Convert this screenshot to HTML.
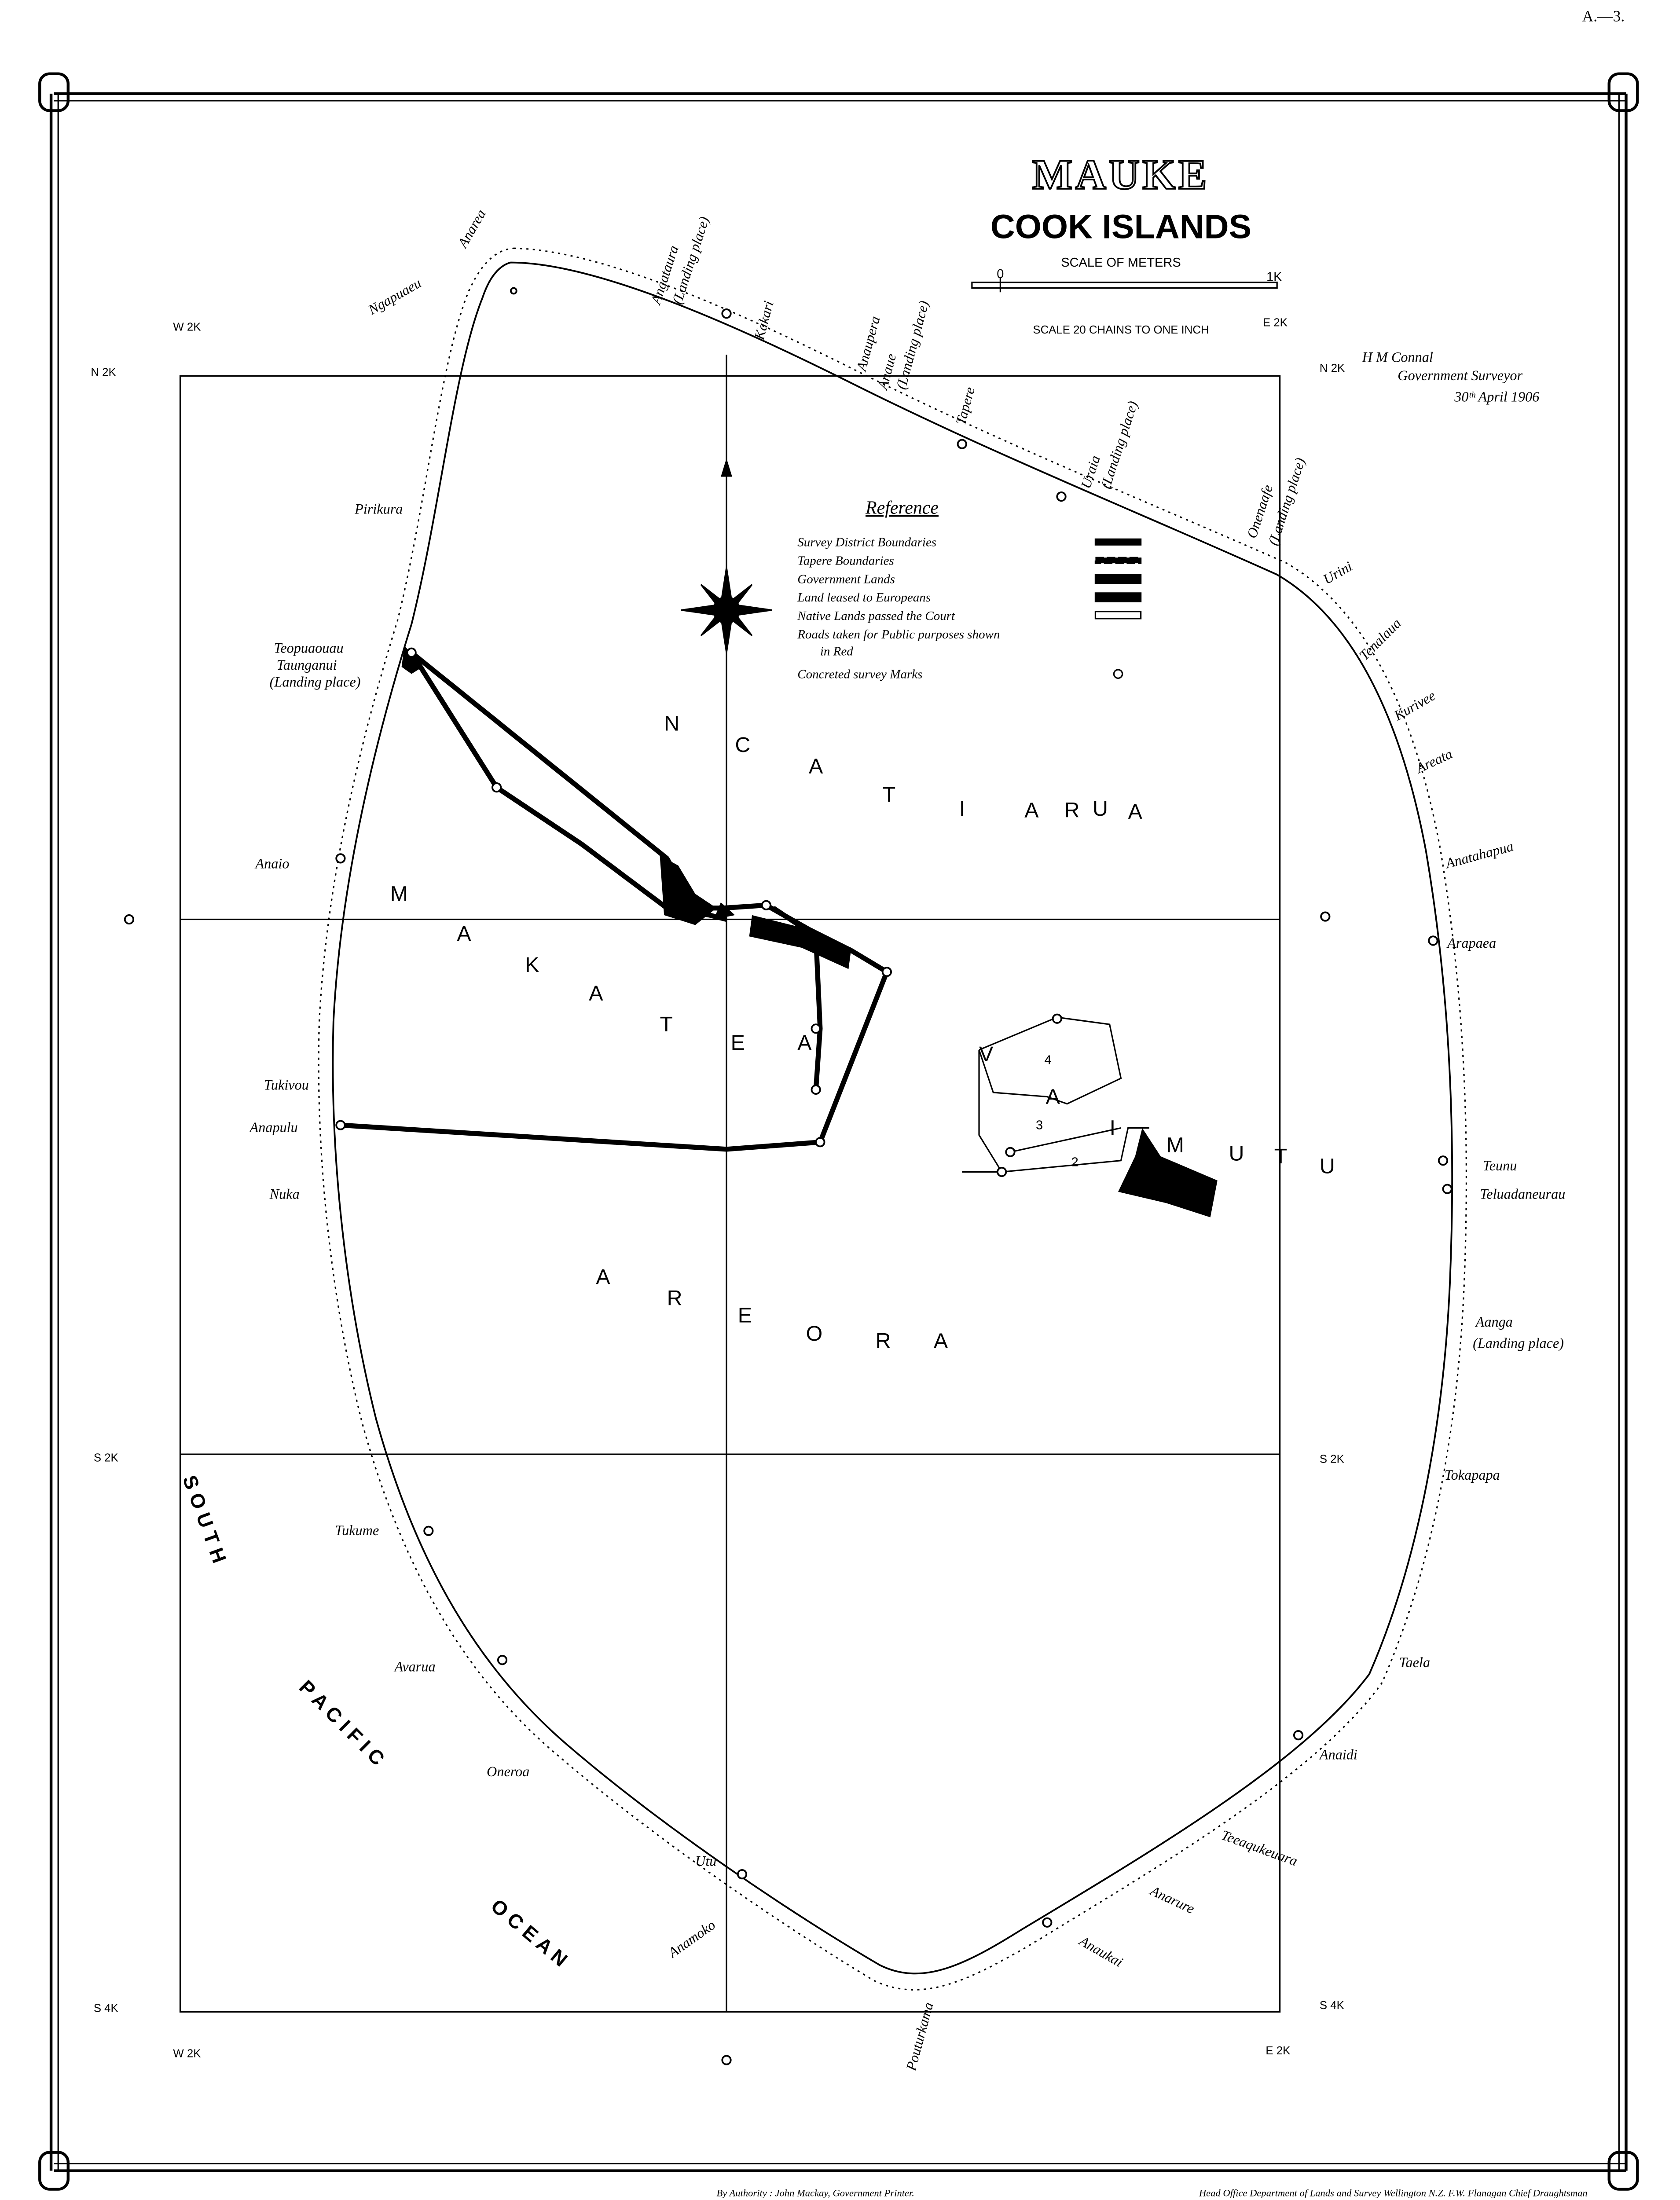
<!DOCTYPE html>
<html><head><meta charset="utf-8"><style>
html,body{margin:0;padding:0;background:#fff;width:3818px;height:5039px;overflow:hidden}
svg{display:block;position:absolute;left:0;top:0}
.s{font-family:"Liberation Serif",serif;font-style:italic;fill:#000}
.g{font-family:"Liberation Sans",sans-serif;fill:#000}
</style></head><body>
<svg width="3818" height="5039" viewBox="0 0 1184 1562.7" preserveAspectRatio="none" xmlns="http://www.w3.org/2000/svg">
<rect width="1184" height="1563" fill="#fff"/>
<g stroke="#000" fill="none">
<line x1="38" y1="66" x2="1146" y2="66" stroke-width="2"/>
<line x1="38" y1="71" x2="1146" y2="71" stroke-width="1"/>
<line x1="38" y1="1530" x2="1146" y2="1530" stroke-width="2"/>
<line x1="38" y1="1525" x2="1146" y2="1525" stroke-width="1"/>
<line x1="36" y1="66" x2="36" y2="1530" stroke-width="2"/>
<line x1="41" y1="66" x2="41" y2="1530" stroke-width="1"/>
<line x1="1146" y1="66" x2="1146" y2="1530" stroke-width="2"/>
<line x1="1141" y1="66" x2="1141" y2="1530" stroke-width="1"/>
<g stroke-width="2">
<rect x="28" y="52" width="20" height="26" rx="7"/><rect x="1134" y="52" width="20" height="26" rx="7"/>
<rect x="28" y="1517" width="20" height="26" rx="7"/><rect x="1134" y="1517" width="20" height="26" rx="7"/>
</g>
<g stroke-width="1">
<rect x="127" y="265" width="775" height="1153"/>
<line x1="512" y1="250" x2="512" y2="1418"/>
<line x1="127" y1="648" x2="902" y2="648"/>
<line x1="127" y1="1025" x2="902" y2="1025"/>
</g>
<path d="M360,185 C420,185 520,230 600,270 C700,320 800,360 900,405 C960,440 990,520 1005,600 C1022,700 1026,800 1022,900 C1018,1000 1000,1100 965,1180 C920,1240 820,1300 720,1360 C680,1385 650,1400 620,1385 C560,1350 470,1290 400,1230 C330,1170 290,1090 265,1000 C245,920 232,820 235,720 C240,620 265,520 290,440 C310,360 320,260 340,210 C345,195 352,187 360,185 Z" stroke-width="1.2"/>
<path d="M362,175 C425,176 525,222 605,262 C705,312 805,352 907,397 C970,434 1000,518 1015,598 C1032,700 1036,800 1032,902 C1028,1004 1010,1104 974,1186 C928,1250 826,1310 724,1372 C682,1396 650,1412 616,1396 C556,1360 464,1298 394,1238 C322,1178 280,1094 255,1002 C235,922 222,822 225,720 C230,620 255,518 280,438 C300,358 310,256 330,206 C338,188 348,176 362,175 Z" stroke-width="1" stroke-dasharray="1.5,3"/>
<g stroke-width="3.5">
<polyline points="290,460 470,605 490,640 510,640 540,638 570,655 600,670 625,685 578,805 512,810 240,793"/>
<polyline points="290,460 350,555 410,595 470,640 500,645 512,648"/>
<polyline points="545,640 575,660 578,725 575,768"/>
</g>
<g stroke-width="1">
<polyline points="690,740 745,717 782,722 790,760 752,778 738,773 700,770 690,740"/>
<polyline points="690,740 690,800 706,826 790,818 795,795 810,795"/>
<polyline points="712,812 790,795"/>
<polyline points="678,826 706,826"/>
</g>
</g>
<g fill="#000">
<polygon points="465,603 478,610 490,630 505,640 490,652 468,645"/>
<polygon points="530,645 570,655 600,668 598,683 565,668 528,660"/>
<polygon points="285,455 298,470 290,475 283,470"/>
<polygon points="805,795 818,815 858,832 853,858 822,848 788,840 800,815"/>
<polygon points="508,636 518,645 503,648"/>
</g>
<g fill="#fff" stroke="#000" stroke-width="1.2">
<circle cx="745" cy="718" r="3"/><circle cx="575" cy="725" r="3"/><circle cx="575" cy="768" r="3"/><circle cx="625" cy="685" r="3"/>
<circle cx="578" cy="805" r="3"/><circle cx="712" cy="812" r="3"/><circle cx="706" cy="826" r="3"/><circle cx="540" cy="638" r="3"/>
<circle cx="678" cy="313" r="3"/><circle cx="748" cy="350" r="3"/><circle cx="1010" cy="663" r="3"/><circle cx="1017" cy="818" r="3"/>
<circle cx="1020" cy="838" r="3"/><circle cx="915" cy="1223" r="3"/><circle cx="738" cy="1355" r="3"/><circle cx="523" cy="1321" r="3"/>
<circle cx="354" cy="1170" r="3"/><circle cx="302" cy="1079" r="3"/><circle cx="240" cy="605" r="3"/><circle cx="240" cy="793" r="3"/>
<circle cx="290" cy="460" r="3"/><circle cx="350" cy="555" r="3"/><circle cx="362" cy="205" r="2"/>
<circle cx="91" cy="648" r="3"/><circle cx="934" cy="646" r="3"/><circle cx="512" cy="1452" r="3"/><circle cx="512" cy="221" r="3"/>
</g>
<g transform="translate(512,430)" fill="#000" stroke="#000">
<polygon points="0,-30 4,-4 0,0 -4,-4"/><polygon points="0,30 4,4 0,0 -4,4"/>
<polygon points="-32,0 -4,-4 0,0 -4,4"/><polygon points="32,0 4,-4 0,0 4,4"/>
<circle r="9" fill="none" stroke-width="1.5"/>
<polygon points="-18,-18 0,-4 -4,0"/><polygon points="18,18 0,4 4,0"/><polygon points="18,-18 4,0 0,-4"/><polygon points="-18,18 -4,0 0,4"/>
</g>
<polygon points="512,323 508,336 516,336" fill="#000"/>
<text x="790" y="133" font-family="Liberation Serif,serif" font-weight="bold" font-size="30" fill="#fff" stroke="#000" stroke-width="1.2" text-anchor="middle" letter-spacing="2">MAUKE</text>
<text x="790" y="168" class="g" font-weight="bold" font-size="24" text-anchor="middle">COOK  ISLANDS</text>
<text x="790" y="188" class="g" font-size="9" text-anchor="middle">SCALE  OF  METERS</text>
<g stroke="#000" fill="none" stroke-width="1"><rect x="685" y="199" width="215" height="4"/><line x1="705" y1="196" x2="705" y2="206"/></g>
<text x="705" y="196" class="g" font-size="9" text-anchor="middle">0</text>
<text x="898" y="198" class="g" font-size="9" text-anchor="middle">1K</text>
<text x="790" y="235" class="g" font-size="8" text-anchor="middle">SCALE 20 CHAINS TO ONE INCH</text>
<text x="1145" y="15" font-family="Liberation Serif,serif" font-size="11" text-anchor="end">A.—3.</text>
<text x="960" y="255" class="s" font-size="10">H M Connal</text>
<text x="985" y="268" class="s" font-size="10">Government Surveyor</text>
<text x="1025" y="283" class="s" font-size="10">30ᵗʰ April 1906</text>
<g class="g" font-size="8">
<text x="122" y="233">W 2K</text><text x="890" y="230">E 2K</text>
<text x="64" y="265">N 2K</text><text x="930" y="262">N 2K</text>
<text x="66" y="1030">S 2K</text><text x="930" y="1031">S 2K</text>
<text x="66" y="1418">S 4K</text><text x="930" y="1416">S 4K</text>
<text x="122" y="1450">W 2K</text><text x="892" y="1448">E 2K</text>
</g>
<text x="610" y="362" class="s" font-size="13" text-decoration="underline">Reference</text>
<g class="s" font-size="9">
<text x="562" y="385">Survey District Boundaries</text>
<text x="562" y="398">Tapere Boundaries</text>
<text x="562" y="411">Government Lands</text>
<text x="562" y="424">Land leased to Europeans</text>
<text x="562" y="437">Native Lands passed the Court</text>
<text x="562" y="450">Roads taken for Public purposes shown</text>
<text x="578" y="462">in Red</text>
<text x="562" y="478">Concreted survey Marks</text>
</g>
<g stroke="#000"><rect x="772" y="380" width="32" height="4" fill="#000"/><rect x="772" y="393" width="32" height="4" fill="#000" stroke-dasharray="6,2"/><rect x="772" y="405" width="32" height="6" fill="#000"/><rect x="772" y="418" width="32" height="6" fill="#000"/><rect x="772" y="431" width="32" height="5" fill="#fff"/><circle cx="788" cy="475" r="3" fill="#fff"/></g>
<g class="g" font-size="15">
<text x="468" y="515">N</text><text x="518" y="530">C</text><text x="570" y="545">A</text><text x="622" y="565">T</text><text x="676" y="575">I</text><text x="722" y="576">A</text><text x="750" y="576">R</text><text x="770" y="575">U</text><text x="795" y="577">A</text>
<text x="275" y="635">M</text><text x="322" y="663">A</text><text x="370" y="685">K</text><text x="415" y="705">A</text><text x="465" y="727">T</text><text x="515" y="740">E</text><text x="562" y="740">A</text>
<text x="690" y="748">V</text><text x="737" y="778">A</text><text x="782" y="800">I</text><text x="822" y="812">M</text><text x="866" y="818">U</text><text x="898" y="820">T</text><text x="930" y="827">U</text>
<text x="420" y="905">A</text><text x="470" y="920">R</text><text x="520" y="932">E</text><text x="568" y="945">O</text><text x="617" y="950">R</text><text x="658" y="950">A</text>
</g>
<g class="g" font-size="9"><text x="736" y="750">4</text><text x="730" y="796">3</text><text x="755" y="822">2</text></g>
<g class="g" font-size="14" font-weight="bold">
<text x="130" y="1050" transform="rotate(70 135 1045)">S O U T H</text>
<text x="210" y="1190" transform="rotate(45 210 1190)">P A C I F I C</text>
<text x="345" y="1345" transform="rotate(40 345 1345)">O C E A N</text>
</g>
<g class="s" font-size="10">
<text x="332" y="158" transform="rotate(-60 345 170)">Anarea</text>
<text x="465" y="215" transform="rotate(-72 465 215)">Angataura</text>
<text x="480" y="215" transform="rotate(-72 480 215)">(Landing place)</text>
<text x="538" y="240" transform="rotate(-75 538 240)">Kakari</text>
<text x="610" y="262" transform="rotate(-75 610 262)">Anaupera</text>
<text x="625" y="275" transform="rotate(-75 625 275)">Anaue</text>
<text x="638" y="275" transform="rotate(-75 638 275)">(Landing place)</text>
<text x="680" y="300" transform="rotate(-75 680 300)">Tapere</text>
<text x="768" y="345" transform="rotate(-72 768 345)">Uraia</text>
<text x="782" y="345" transform="rotate(-72 782 345)">(Landing place)</text>
<text x="885" y="380" transform="rotate(-72 885 380)">Onenaafe</text>
<text x="900" y="385" transform="rotate(-72 900 385)">(Landing place)</text>
<text x="262" y="222" transform="rotate(-30 262 222)">Ngapuaeu</text>
<text x="935" y="412" transform="rotate(-30 935 412)">Urini</text>
<text x="962" y="466" transform="rotate(-45 962 466)">Tenalaua</text>
<text x="985" y="508" transform="rotate(-30 985 508)">Kurivee</text>
<text x="1000" y="545" transform="rotate(-25 1000 545)">Areata</text>
<text x="1020" y="612" transform="rotate(-15 1020 612)">Anatahapua</text>
<text x="1020" y="668">Arapaea</text>
<text x="1045" y="825">Teunu</text>
<text x="1043" y="845">Teluadaneurau</text>
<text x="1040" y="935">Aanga</text><text x="1038" y="950">(Landing place)</text>
<text x="1018" y="1043">Tokapapa</text>
<text x="986" y="1175">Taela</text>
<text x="930" y="1240">Anaidi</text>
<text x="860" y="1296" transform="rotate(20 860 1296)">Teeaqukeuara</text>
<text x="810" y="1335" transform="rotate(25 810 1335)">Anarure</text>
<text x="760" y="1370" transform="rotate(30 760 1370)">Anaukai</text>
<text x="645" y="1460" transform="rotate(-75 645 1460)">Pouturkama</text>
<text x="474" y="1380" transform="rotate(-35 474 1380)">Anamoko</text>
<text x="490" y="1315">Utu</text>
<text x="343" y="1252">Oneroa</text>
<text x="278" y="1178">Avarua</text>
<text x="236" y="1082">Tukume</text>
<text x="190" y="845">Nuka</text>
<text x="176" y="798">Anapulu</text>
<text x="186" y="768">Tukivou</text>
<text x="180" y="612">Anaio</text>
<text x="250" y="362">Pirikura</text>
<text x="193" y="460">Teopuaouau</text>
<text x="195" y="472">Taunganui</text>
<text x="190" y="484">(Landing place)</text>
</g>
<text x="505" y="1548" class="s" font-size="7">By Authority : John Mackay, Government Printer.</text>
<text x="845" y="1548" class="s" font-size="7">Head Office Department of Lands and Survey Wellington N.Z. F.W. Flanagan Chief Draughtsman</text>
</svg>
</body></html>
